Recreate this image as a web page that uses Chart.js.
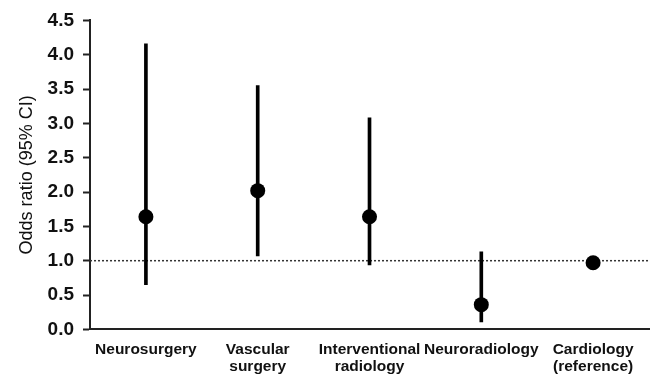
<!DOCTYPE html>
<html lang="en">
<head>
    <meta charset="UTF-8">
    <title>Odds ratio by specialty</title>
    <script src="https://cdn.jsdelivr.net/npm/chart.js@4/dist/chart.umd.min.js"></script>
    <style>
        body {
            margin: 0;
            padding: 0;
            background: #fff;
        }
        canvas { display: block; }
    </style>
</head>
<body>
    <canvas id="orChart" width="655" height="377"></canvas>

    <script>
        // values
        const categories = [
            ['Neurosurgery'],
            ['Vascular', 'surgery'],
            ['Interventional', 'radiology'],
            ['Neuroradiology'],
            ['Cardiology', '(reference)']
        ];
        const oddsRatio = [1.64, 2.02, 1.64, 0.36, 0.97];
        const ciLow = [0.65, 1.07, 0.94, 0.11, null];
        const ciHigh = [4.16, 3.55, 3.08, 1.13, null];
        const yTicks = [0, 0.5, 1, 1.5, 2, 2.5, 3, 3.5, 4, 4.5];
        const refLine = 1;

        const fontFamily = '"Liberation Sans", Arial, Helvetica, sans-serif';

        // dotted line at OR = 1 across the whole plot area
        const refLinePlugin = {
            id: 'refLine',
            beforeDatasetsDraw(chart) {
                const { ctx, chartArea, scales } = chart;
                const y = scales.y.getPixelForValue(refLine);
                ctx.save();
                ctx.strokeStyle = '#333';
                ctx.lineWidth = 1.5;
                ctx.setLineDash([2, 2]);
                ctx.beginPath();
                ctx.moveTo(chartArea.left, y);
                ctx.lineTo(chartArea.right, y);
                ctx.stroke();
                ctx.restore();
            }
        };

        function createChart() {
            const ctx = document.getElementById('orChart').getContext('2d');
            const ciRanges = ciLow.map((lo, i) => lo == null ? null : [lo, ciHigh[i]]);

            new Chart(ctx, {
                data: {
                    labels: categories,
                    datasets: [
                        {
                            type: 'line',
                            data: oddsRatio,
                            showLine: false,
                            pointRadius: 7.5,
                            pointBackgroundColor: '#000',
                            pointBorderColor: '#000',
                            pointBorderWidth: 0,
                            order: 0
                        },
                        {
                            type: 'bar',
                            data: ciRanges,
                            backgroundColor: '#000',
                            barThickness: 3,
                            order: 1
                        }
                    ]
                },
                options: {
                    responsive: false,
                    animation: false,
                    layout: {
                        autoPadding: false,
                        // ticks.padding is counted twice by the scale fit, so pull the bottom back
                        padding: { left: 16, top: 7, right: 6, bottom: -10 }
                    },
                    plugins: {
                        legend: { display: false },
                        tooltip: { enabled: false }
                    },
                    scales: {
                        x: {
                            type: 'category',
                            offset: true,
                            grid: { display: false, drawTicks: false },
                            border: { display: true, color: '#222', width: 2 },
                            ticks: {
                                color: '#111',
                                padding: 11,
                                maxRotation: 0,
                                autoSkip: false,
                                font: { family: fontFamily, size: 15.5, weight: 'bold', lineHeight: 1.15 }
                            }
                        },
                        y: {
                            min: 0,
                            max: 4.5,
                            afterBuildTicks(scale) {
                                scale.ticks = yTicks.map(v => ({ value: v }));
                            },
                            grid: {
                                drawOnChartArea: false,
                                drawTicks: true,
                                tickLength: 7,
                                tickColor: '#222',
                                tickWidth: 2
                            },
                            border: { display: true, color: '#222', width: 2 },
                            ticks: {
                                color: '#111',
                                padding: 9,
                                callback: v => Number(v).toFixed(1),
                                font: { family: fontFamily, size: 19, weight: 'bold' }
                            },
                            title: {
                                display: true,
                                text: 'Odds ratio (95% CI)',
                                color: '#111',
                                padding: { top: 0, bottom: 1 },
                                font: { family: fontFamily, size: 18 }
                            }
                        }
                    }
                },
                plugins: [refLinePlugin]
            });
        }

        createChart();
    </script>
</body>
</html>
